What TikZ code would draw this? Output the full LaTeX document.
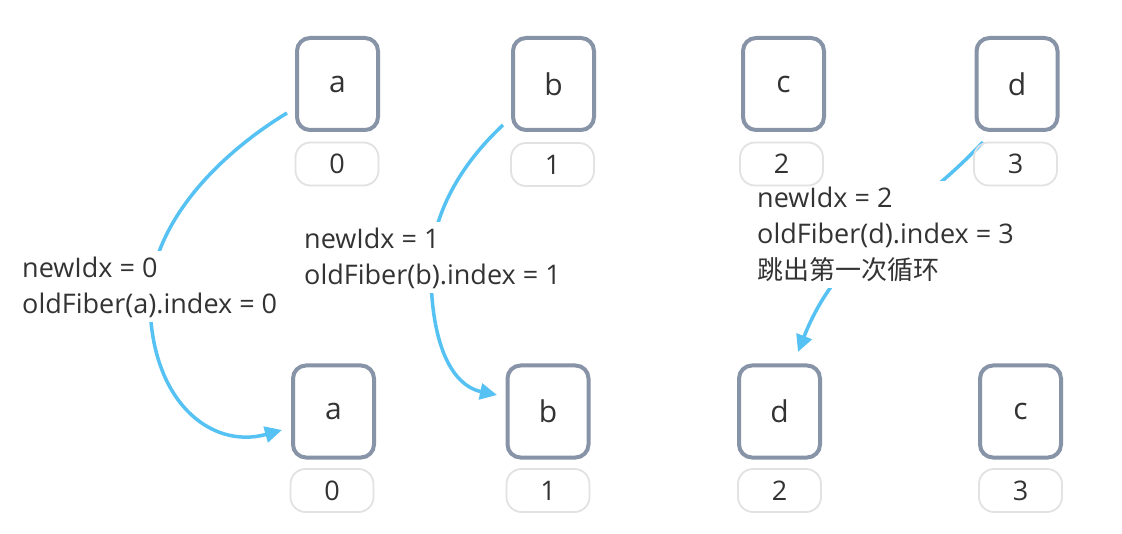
\documentclass[tikz,border=0pt]{standalone}
\usepackage{fontspec}
\setmainfont{Open Sans}
\newfontfamily\cjk{Noto Sans CJK SC}
\usetikzlibrary{arrows.meta}
\definecolor{boxc}{HTML}{8793A6}
\definecolor{idxc}{HTML}{E2E2E2}
\definecolor{arr}{HTML}{56C2F3}
\definecolor{txt}{HTML}{333333}
\begin{document}
\begin{tikzpicture}[x=1pt,y=-1pt,
  fiber/.style={draw=boxc, line width=4pt, rounded corners=13pt, minimum width=81pt, minimum height=92pt, text=txt, font=\fontsize{30}{34}\selectfont, inner sep=0pt},
  idx/.style={draw=idxc, line width=1.8pt, rounded corners=15pt, minimum width=83pt, minimum height=43pt, text=txt, font=\fontsize{27}{30}\selectfont, inner sep=0pt},
  lbl/.style={fill=white, align=left, anchor=north west, inner xsep=2pt, inner ysep=1pt, text=txt, font=\fontsize{27}{36}\selectfont},
  link/.style={draw=arr, line width=3.5pt, -{Triangle[length=17pt,width=16pt]}}]
\useasboundingbox[fill=white] (0,0) rectangle (1122,534);

% connector end points
\coordinate (s1) at (287,113);
\coordinate (e1) at (282,430);
\coordinate (s2) at (503,125);
\coordinate (e2) at (497,395);
\coordinate (s3) at (983,142);
\coordinate (e3) at (798,352);

% connectors
\draw[link] (s1) .. controls (210,160) and (150,230) .. (150,300) .. controls (150,400) and (210,450) .. (e1);
\draw[link] (s2) .. controls (460,165) and (432,215) .. (431,265) .. controls (430,340) and (450,385) .. (e2);
\draw[link] (s3) .. controls (915,215) and (840,245) .. (e3);

% labels
\node[lbl] (l1) at (20,251) {\rule{0pt}{25pt}newIdx = 0\\oldFiber(a).index = 0\rule[-8pt]{0pt}{8pt}};
\node[lbl] (l2) at (302,222) {\rule{0pt}{25pt}newIdx = 1\\oldFiber(b).index = 1\rule[-8pt]{0pt}{8pt}};
\node[lbl] (l3) at (755,181) {\rule{0pt}{25pt}newIdx = 2\\oldFiber(d).index = 3\\{\cjk\fontsize{26}{36}\selectfont 跳出第一次循环}\rule[-8pt]{0pt}{8pt}};

% old fibers (top row)
\node[fiber] (ta) at (337.5,84) {a};
\node[fiber] (tb) at (553.5,84) {b};
\node[fiber] (tc) at (783.5,84) {c};
\node[fiber] (td) at (1017,84) {d};
\node[idx] (ta0) at (337,164) {0};
\node[idx] (tb1) at (552.5,164.5) {1};
\node[idx] (tc2) at (781.5,164) {2};
\node[idx] (td3) at (1015.5,164) {3};

% new fibers (bottom row)
\node[fiber] (ba) at (333.5,411.5) {a};
\node[fiber] (bb) at (548,411.5) {b};
\node[fiber] (bd) at (779.5,411.5) {d};
\node[fiber] (bc) at (1020.5,411.5) {c};
\node[idx] (ba0) at (332,490.5) {0};
\node[idx] (bb1) at (548,490.5) {1};
\node[idx] (bd2) at (779.5,490.5) {2};
\node[idx] (bc3) at (1020.5,490.5) {3};
\end{tikzpicture}
\end{document}
